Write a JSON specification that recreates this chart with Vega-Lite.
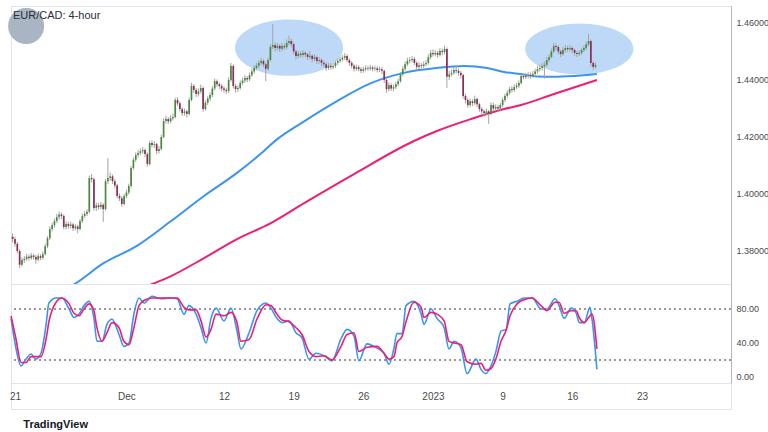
{
"$schema": "https://vega.github.io/schema/vega-lite/v6.json",
"padding": {"left": 7, "top": 5, "right": 0, "bottom": 0},
"background": "#ffffff",
"spacing": 0,
"bounds": "flush",
"config": {"view": {"stroke": "#e0e3eb"}, "axis": {"labelFont": "Liberation Sans", "labelFontSize": 9, "labelColor": "#4a4a4a", "grid": false, "ticks": false, "domainColor": "#b2b5be"}},
"title": {"text": "TradingView", "orient": "bottom", "anchor": "start", "dx": 16, "fontSize": 11, "font": "Liberation Sans", "fontWeight": "bold", "color": "#131722", "offset": 9},
"datasets": {
"candles": [
{"t":-1,"o":1.3850,"h":1.3862,"l":1.3830,"c":1.3842},
{"t":0,"o":1.3842,"h":1.3850,"l":1.3815,"c":1.3825},
{"t":1,"o":1.3825,"h":1.3832,"l":1.3792,"c":1.3800},
{"t":2,"o":1.3800,"h":1.3806,"l":1.3740,"c":1.3752},
{"t":3,"o":1.3752,"h":1.3778,"l":1.3745,"c":1.3768},
{"t":4,"o":1.3768,"h":1.3782,"l":1.3758,"c":1.3772},
{"t":5,"o":1.3772,"h":1.3790,"l":1.3765,"c":1.3780},
{"t":6,"o":1.3780,"h":1.3788,"l":1.3766,"c":1.3775},
{"t":7,"o":1.3775,"h":1.3793,"l":1.3769,"c":1.3784},
{"t":8,"o":1.3784,"h":1.3790,"l":1.3770,"c":1.3779},
{"t":9,"o":1.3779,"h":1.3786,"l":1.3755,"c":1.3770},
{"t":10,"o":1.3770,"h":1.3791,"l":1.3763,"c":1.3782},
{"t":11,"o":1.3782,"h":1.3789,"l":1.3768,"c":1.3776},
{"t":12,"o":1.3776,"h":1.3798,"l":1.3770,"c":1.3789},
{"t":13,"o":1.3789,"h":1.3826,"l":1.3784,"c":1.3817},
{"t":14,"o":1.3817,"h":1.3852,"l":1.3810,"c":1.3845},
{"t":15,"o":1.3845,"h":1.3886,"l":1.3838,"c":1.3877},
{"t":16,"o":1.3877,"h":1.3899,"l":1.3868,"c":1.3890},
{"t":17,"o":1.3890,"h":1.3914,"l":1.3882,"c":1.3905},
{"t":18,"o":1.3905,"h":1.3930,"l":1.3898,"c":1.3919},
{"t":19,"o":1.3919,"h":1.3938,"l":1.3910,"c":1.3928},
{"t":20,"o":1.3928,"h":1.3935,"l":1.3912,"c":1.3923},
{"t":21,"o":1.3923,"h":1.3928,"l":1.3875,"c":1.3884},
{"t":22,"o":1.3884,"h":1.3904,"l":1.3876,"c":1.3895},
{"t":23,"o":1.3895,"h":1.3902,"l":1.3878,"c":1.3888},
{"t":24,"o":1.3888,"h":1.3903,"l":1.3879,"c":1.3893},
{"t":25,"o":1.3893,"h":1.3898,"l":1.3870,"c":1.3880},
{"t":26,"o":1.3880,"h":1.3895,"l":1.3872,"c":1.3886},
{"t":27,"o":1.3886,"h":1.3892,"l":1.3862,"c":1.3877},
{"t":28,"o":1.3877,"h":1.3912,"l":1.3872,"c":1.3905},
{"t":29,"o":1.3905,"h":1.3931,"l":1.3898,"c":1.3923},
{"t":30,"o":1.3923,"h":1.3940,"l":1.3915,"c":1.3930},
{"t":31,"o":1.3930,"h":1.3946,"l":1.3922,"c":1.3938},
{"t":32,"o":1.3938,"h":1.4065,"l":1.3932,"c":1.4056},
{"t":33,"o":1.4056,"h":1.4070,"l":1.4040,"c":1.4052},
{"t":34,"o":1.4052,"h":1.4058,"l":1.3942,"c":1.3951},
{"t":35,"o":1.3951,"h":1.3970,"l":1.3940,"c":1.3960},
{"t":36,"o":1.3960,"h":1.3968,"l":1.3945,"c":1.3954},
{"t":37,"o":1.3954,"h":1.3972,"l":1.3946,"c":1.3962},
{"t":38,"o":1.3962,"h":1.3968,"l":1.3902,"c":1.3947},
{"t":39,"o":1.3947,"h":1.4052,"l":1.3942,"c":1.4045},
{"t":40,"o":1.4045,"h":1.4126,"l":1.4035,"c":1.4056},
{"t":41,"o":1.4056,"h":1.4075,"l":1.4046,"c":1.4062},
{"t":42,"o":1.4062,"h":1.4068,"l":1.4036,"c":1.4045},
{"t":43,"o":1.4045,"h":1.4052,"l":1.4020,"c":1.4030},
{"t":44,"o":1.4030,"h":1.4036,"l":1.3985,"c":1.3993},
{"t":45,"o":1.3993,"h":1.4002,"l":1.3975,"c":1.3985},
{"t":46,"o":1.3985,"h":1.3992,"l":1.3955,"c":1.3965},
{"t":47,"o":1.3965,"h":1.4000,"l":1.3960,"c":1.3993},
{"t":48,"o":1.3993,"h":1.4015,"l":1.3985,"c":1.4005},
{"t":49,"o":1.4005,"h":1.4036,"l":1.3998,"c":1.4028},
{"t":50,"o":1.4028,"h":1.4098,"l":1.4022,"c":1.4091},
{"t":51,"o":1.4091,"h":1.4128,"l":1.4085,"c":1.4120},
{"t":52,"o":1.4120,"h":1.4146,"l":1.4112,"c":1.4137},
{"t":53,"o":1.4137,"h":1.4155,"l":1.4128,"c":1.4144},
{"t":54,"o":1.4144,"h":1.4160,"l":1.4136,"c":1.4150},
{"t":55,"o":1.4150,"h":1.4165,"l":1.4141,"c":1.4154},
{"t":56,"o":1.4154,"h":1.4160,"l":1.4130,"c":1.4140},
{"t":57,"o":1.4140,"h":1.4146,"l":1.4095,"c":1.4105},
{"t":58,"o":1.4105,"h":1.4186,"l":1.4100,"c":1.4179},
{"t":59,"o":1.4179,"h":1.4188,"l":1.4163,"c":1.4172},
{"t":60,"o":1.4172,"h":1.4185,"l":1.4162,"c":1.4175},
{"t":61,"o":1.4175,"h":1.4180,"l":1.4140,"c":1.4151},
{"t":62,"o":1.4151,"h":1.4168,"l":1.4142,"c":1.4158},
{"t":63,"o":1.4158,"h":1.4208,"l":1.4152,"c":1.4200},
{"t":64,"o":1.4200,"h":1.4265,"l":1.4195,"c":1.4256},
{"t":65,"o":1.4256,"h":1.4275,"l":1.4247,"c":1.4263},
{"t":66,"o":1.4263,"h":1.4270,"l":1.4245,"c":1.4255},
{"t":67,"o":1.4255,"h":1.4276,"l":1.4248,"c":1.4266},
{"t":68,"o":1.4266,"h":1.4282,"l":1.4258,"c":1.4270},
{"t":69,"o":1.4270,"h":1.4338,"l":1.4265,"c":1.4330},
{"t":70,"o":1.4330,"h":1.4340,"l":1.4310,"c":1.4318},
{"t":71,"o":1.4318,"h":1.4325,"l":1.4290,"c":1.4298},
{"t":72,"o":1.4298,"h":1.4305,"l":1.4274,"c":1.4284},
{"t":73,"o":1.4284,"h":1.4300,"l":1.4275,"c":1.4290},
{"t":74,"o":1.4290,"h":1.4296,"l":1.4268,"c":1.4281},
{"t":75,"o":1.4281,"h":1.4338,"l":1.4276,"c":1.4330},
{"t":76,"o":1.4330,"h":1.4390,"l":1.4325,"c":1.4379},
{"t":77,"o":1.4379,"h":1.4386,"l":1.4355,"c":1.4365},
{"t":78,"o":1.4365,"h":1.4372,"l":1.4340,"c":1.4351},
{"t":79,"o":1.4351,"h":1.4370,"l":1.4342,"c":1.4360},
{"t":80,"o":1.4360,"h":1.4384,"l":1.4352,"c":1.4372},
{"t":81,"o":1.4372,"h":1.4378,"l":1.4288,"c":1.4298},
{"t":82,"o":1.4298,"h":1.4328,"l":1.4292,"c":1.4320},
{"t":83,"o":1.4320,"h":1.4343,"l":1.4312,"c":1.4335},
{"t":84,"o":1.4335,"h":1.4356,"l":1.4326,"c":1.4347},
{"t":85,"o":1.4347,"h":1.4378,"l":1.4340,"c":1.4370},
{"t":86,"o":1.4370,"h":1.4405,"l":1.4364,"c":1.4396},
{"t":87,"o":1.4396,"h":1.4402,"l":1.4376,"c":1.4385},
{"t":88,"o":1.4385,"h":1.4392,"l":1.4368,"c":1.4379},
{"t":89,"o":1.4379,"h":1.4386,"l":1.4360,"c":1.4370},
{"t":90,"o":1.4370,"h":1.4378,"l":1.4355,"c":1.4365},
{"t":91,"o":1.4365,"h":1.4373,"l":1.4350,"c":1.4361},
{"t":92,"o":1.4361,"h":1.4410,"l":1.4355,"c":1.4400},
{"t":93,"o":1.4400,"h":1.4460,"l":1.4393,"c":1.4449},
{"t":94,"o":1.4449,"h":1.4455,"l":1.4370,"c":1.4379},
{"t":95,"o":1.4379,"h":1.4386,"l":1.4356,"c":1.4368},
{"t":96,"o":1.4368,"h":1.4382,"l":1.4358,"c":1.4372},
{"t":97,"o":1.4372,"h":1.4398,"l":1.4365,"c":1.4390},
{"t":98,"o":1.4390,"h":1.4408,"l":1.4382,"c":1.4398},
{"t":99,"o":1.4398,"h":1.4418,"l":1.4390,"c":1.4407},
{"t":100,"o":1.4407,"h":1.4414,"l":1.4392,"c":1.4402},
{"t":101,"o":1.4402,"h":1.4426,"l":1.4396,"c":1.4417},
{"t":102,"o":1.4417,"h":1.4440,"l":1.4410,"c":1.4430},
{"t":103,"o":1.4430,"h":1.4452,"l":1.4422,"c":1.4442},
{"t":104,"o":1.4442,"h":1.4460,"l":1.4435,"c":1.4450},
{"t":105,"o":1.4450,"h":1.4470,"l":1.4442,"c":1.4460},
{"t":106,"o":1.4460,"h":1.4478,"l":1.4452,"c":1.4467},
{"t":107,"o":1.4467,"h":1.4472,"l":1.4445,"c":1.4455},
{"t":108,"o":1.4455,"h":1.4460,"l":1.4396,"c":1.4439},
{"t":109,"o":1.4439,"h":1.4478,"l":1.4432,"c":1.4470},
{"t":110,"o":1.4470,"h":1.4525,"l":1.4464,"c":1.4516},
{"t":111,"o":1.4516,"h":1.4596,"l":1.4508,"c":1.4523},
{"t":112,"o":1.4523,"h":1.4532,"l":1.4500,"c":1.4512},
{"t":113,"o":1.4512,"h":1.4530,"l":1.4503,"c":1.4520},
{"t":114,"o":1.4520,"h":1.4526,"l":1.4498,"c":1.4510},
{"t":115,"o":1.4510,"h":1.4530,"l":1.4502,"c":1.4519},
{"t":116,"o":1.4519,"h":1.4528,"l":1.4505,"c":1.4515},
{"t":117,"o":1.4515,"h":1.4542,"l":1.4508,"c":1.4530},
{"t":118,"o":1.4530,"h":1.4556,"l":1.4522,"c":1.4537},
{"t":119,"o":1.4537,"h":1.4545,"l":1.4515,"c":1.4526},
{"t":120,"o":1.4526,"h":1.4530,"l":1.4490,"c":1.4500},
{"t":121,"o":1.4500,"h":1.4507,"l":1.4472,"c":1.4484},
{"t":122,"o":1.4484,"h":1.4502,"l":1.4476,"c":1.4492},
{"t":123,"o":1.4492,"h":1.4500,"l":1.4478,"c":1.4488},
{"t":124,"o":1.4488,"h":1.4505,"l":1.4480,"c":1.4495},
{"t":125,"o":1.4495,"h":1.4502,"l":1.4480,"c":1.4490},
{"t":126,"o":1.4490,"h":1.4496,"l":1.4470,"c":1.4481},
{"t":127,"o":1.4481,"h":1.4502,"l":1.4472,"c":1.4485},
{"t":128,"o":1.4485,"h":1.4490,"l":1.4462,"c":1.4474},
{"t":129,"o":1.4474,"h":1.4490,"l":1.4466,"c":1.4480},
{"t":130,"o":1.4480,"h":1.4486,"l":1.4456,"c":1.4467},
{"t":131,"o":1.4467,"h":1.4480,"l":1.4458,"c":1.4470},
{"t":132,"o":1.4470,"h":1.4476,"l":1.4448,"c":1.4460},
{"t":133,"o":1.4460,"h":1.4468,"l":1.4445,"c":1.4455},
{"t":134,"o":1.4455,"h":1.4462,"l":1.4432,"c":1.4442},
{"t":135,"o":1.4442,"h":1.4460,"l":1.4435,"c":1.4450},
{"t":136,"o":1.4450,"h":1.4458,"l":1.4436,"c":1.4445},
{"t":137,"o":1.4445,"h":1.4458,"l":1.4438,"c":1.4449},
{"t":138,"o":1.4449,"h":1.4468,"l":1.4442,"c":1.4460},
{"t":139,"o":1.4460,"h":1.4476,"l":1.4452,"c":1.4467},
{"t":140,"o":1.4467,"h":1.4482,"l":1.4460,"c":1.4472},
{"t":141,"o":1.4472,"h":1.4488,"l":1.4465,"c":1.4478},
{"t":142,"o":1.4478,"h":1.4494,"l":1.4470,"c":1.4484},
{"t":143,"o":1.4484,"h":1.4490,"l":1.4462,"c":1.4470},
{"t":144,"o":1.4470,"h":1.4476,"l":1.4450,"c":1.4460},
{"t":145,"o":1.4460,"h":1.4466,"l":1.4440,"c":1.4450},
{"t":146,"o":1.4450,"h":1.4456,"l":1.4430,"c":1.4439},
{"t":147,"o":1.4439,"h":1.4454,"l":1.4432,"c":1.4445},
{"t":148,"o":1.4445,"h":1.4452,"l":1.4430,"c":1.4438},
{"t":149,"o":1.4438,"h":1.4445,"l":1.4424,"c":1.4432},
{"t":150,"o":1.4432,"h":1.4446,"l":1.4425,"c":1.4438},
{"t":151,"o":1.4438,"h":1.4452,"l":1.4430,"c":1.4442},
{"t":152,"o":1.4442,"h":1.4450,"l":1.4432,"c":1.4440},
{"t":153,"o":1.4440,"h":1.4453,"l":1.4433,"c":1.4444},
{"t":154,"o":1.4444,"h":1.4450,"l":1.4430,"c":1.4439},
{"t":155,"o":1.4439,"h":1.4450,"l":1.4431,"c":1.4441},
{"t":156,"o":1.4441,"h":1.4448,"l":1.4426,"c":1.4435},
{"t":157,"o":1.4435,"h":1.4447,"l":1.4428,"c":1.4438},
{"t":158,"o":1.4438,"h":1.4445,"l":1.4420,"c":1.4432},
{"t":159,"o":1.4432,"h":1.4436,"l":1.4390,"c":1.4400},
{"t":160,"o":1.4400,"h":1.4405,"l":1.4355,"c":1.4368},
{"t":161,"o":1.4368,"h":1.4392,"l":1.4360,"c":1.4382},
{"t":162,"o":1.4382,"h":1.4388,"l":1.4362,"c":1.4370},
{"t":163,"o":1.4370,"h":1.4384,"l":1.4360,"c":1.4375},
{"t":164,"o":1.4375,"h":1.4394,"l":1.4368,"c":1.4385},
{"t":165,"o":1.4385,"h":1.4405,"l":1.4378,"c":1.4396},
{"t":166,"o":1.4396,"h":1.4428,"l":1.4390,"c":1.4420},
{"t":167,"o":1.4420,"h":1.4448,"l":1.4414,"c":1.4439},
{"t":168,"o":1.4439,"h":1.4465,"l":1.4432,"c":1.4455},
{"t":169,"o":1.4455,"h":1.4478,"l":1.4448,"c":1.4467},
{"t":170,"o":1.4467,"h":1.4480,"l":1.4458,"c":1.4470},
{"t":171,"o":1.4470,"h":1.4484,"l":1.4462,"c":1.4474},
{"t":172,"o":1.4474,"h":1.4480,"l":1.4452,"c":1.4460},
{"t":173,"o":1.4460,"h":1.4466,"l":1.4436,"c":1.4446},
{"t":174,"o":1.4446,"h":1.4462,"l":1.4438,"c":1.4452},
{"t":175,"o":1.4452,"h":1.4460,"l":1.4440,"c":1.4449},
{"t":176,"o":1.4449,"h":1.4465,"l":1.4442,"c":1.4455},
{"t":177,"o":1.4455,"h":1.4470,"l":1.4448,"c":1.4460},
{"t":178,"o":1.4460,"h":1.4490,"l":1.4454,"c":1.4480},
{"t":179,"o":1.4480,"h":1.4505,"l":1.4472,"c":1.4495},
{"t":180,"o":1.4495,"h":1.4508,"l":1.4482,"c":1.4490},
{"t":181,"o":1.4490,"h":1.4505,"l":1.4483,"c":1.4495},
{"t":182,"o":1.4495,"h":1.4502,"l":1.4478,"c":1.4488},
{"t":183,"o":1.4488,"h":1.4512,"l":1.4482,"c":1.4502},
{"t":184,"o":1.4502,"h":1.4510,"l":1.4488,"c":1.4498},
{"t":185,"o":1.4498,"h":1.4520,"l":1.4490,"c":1.4509},
{"t":186,"o":1.4509,"h":1.4514,"l":1.4372,"c":1.4411},
{"t":187,"o":1.4411,"h":1.4432,"l":1.4400,"c":1.4420},
{"t":188,"o":1.4420,"h":1.4436,"l":1.4412,"c":1.4425},
{"t":189,"o":1.4425,"h":1.4445,"l":1.4418,"c":1.4435},
{"t":190,"o":1.4435,"h":1.4448,"l":1.4422,"c":1.4432},
{"t":191,"o":1.4432,"h":1.4440,"l":1.4415,"c":1.4425},
{"t":192,"o":1.4425,"h":1.4432,"l":1.4405,"c":1.4417},
{"t":193,"o":1.4417,"h":1.4422,"l":1.4335,"c":1.4344},
{"t":194,"o":1.4344,"h":1.4352,"l":1.4318,"c":1.4330},
{"t":195,"o":1.4330,"h":1.4336,"l":1.4302,"c":1.4312},
{"t":196,"o":1.4312,"h":1.4335,"l":1.4305,"c":1.4325},
{"t":197,"o":1.4325,"h":1.4332,"l":1.4308,"c":1.4319},
{"t":198,"o":1.4319,"h":1.4345,"l":1.4312,"c":1.4333},
{"t":199,"o":1.4333,"h":1.4338,"l":1.4305,"c":1.4315},
{"t":200,"o":1.4315,"h":1.4320,"l":1.4288,"c":1.4298},
{"t":201,"o":1.4298,"h":1.4305,"l":1.4280,"c":1.4290},
{"t":202,"o":1.4290,"h":1.4296,"l":1.4272,"c":1.4284},
{"t":203,"o":1.4284,"h":1.4300,"l":1.4276,"c":1.4290},
{"t":204,"o":1.4290,"h":1.4295,"l":1.4246,"c":1.4281},
{"t":205,"o":1.4281,"h":1.4322,"l":1.4275,"c":1.4312},
{"t":206,"o":1.4312,"h":1.4320,"l":1.4290,"c":1.4300},
{"t":207,"o":1.4300,"h":1.4315,"l":1.4292,"c":1.4305},
{"t":208,"o":1.4305,"h":1.4312,"l":1.4290,"c":1.4300},
{"t":209,"o":1.4300,"h":1.4320,"l":1.4292,"c":1.4312},
{"t":210,"o":1.4312,"h":1.4338,"l":1.4305,"c":1.4330},
{"t":211,"o":1.4330,"h":1.4352,"l":1.4322,"c":1.4344},
{"t":212,"o":1.4344,"h":1.4364,"l":1.4338,"c":1.4355},
{"t":213,"o":1.4355,"h":1.4376,"l":1.4348,"c":1.4368},
{"t":214,"o":1.4368,"h":1.4378,"l":1.4356,"c":1.4365},
{"t":215,"o":1.4365,"h":1.4384,"l":1.4358,"c":1.4375},
{"t":216,"o":1.4375,"h":1.4390,"l":1.4368,"c":1.4380},
{"t":217,"o":1.4380,"h":1.4398,"l":1.4372,"c":1.4389},
{"t":218,"o":1.4389,"h":1.4422,"l":1.4384,"c":1.4414},
{"t":219,"o":1.4414,"h":1.4422,"l":1.4402,"c":1.4410},
{"t":220,"o":1.4410,"h":1.4425,"l":1.4403,"c":1.4415},
{"t":221,"o":1.4415,"h":1.4428,"l":1.4406,"c":1.4417},
{"t":222,"o":1.4417,"h":1.4426,"l":1.4405,"c":1.4414},
{"t":223,"o":1.4414,"h":1.4432,"l":1.4408,"c":1.4421},
{"t":224,"o":1.4421,"h":1.4440,"l":1.4414,"c":1.4430},
{"t":225,"o":1.4430,"h":1.4450,"l":1.4422,"c":1.4438},
{"t":226,"o":1.4438,"h":1.4454,"l":1.4430,"c":1.4442},
{"t":227,"o":1.4442,"h":1.4460,"l":1.4434,"c":1.4448},
{"t":228,"o":1.4448,"h":1.4464,"l":1.4405,"c":1.4453},
{"t":229,"o":1.4453,"h":1.4480,"l":1.4446,"c":1.4470},
{"t":230,"o":1.4470,"h":1.4490,"l":1.4462,"c":1.4481},
{"t":231,"o":1.4481,"h":1.4510,"l":1.4475,"c":1.4500},
{"t":232,"o":1.4500,"h":1.4530,"l":1.4494,"c":1.4519},
{"t":233,"o":1.4519,"h":1.4528,"l":1.4505,"c":1.4516},
{"t":234,"o":1.4516,"h":1.4522,"l":1.4490,"c":1.4500},
{"t":235,"o":1.4500,"h":1.4506,"l":1.4480,"c":1.4491},
{"t":236,"o":1.4491,"h":1.4515,"l":1.4484,"c":1.4505},
{"t":237,"o":1.4505,"h":1.4522,"l":1.4496,"c":1.4512},
{"t":238,"o":1.4512,"h":1.4520,"l":1.4498,"c":1.4508},
{"t":239,"o":1.4508,"h":1.4522,"l":1.4500,"c":1.4512},
{"t":240,"o":1.4512,"h":1.4518,"l":1.4494,"c":1.4505},
{"t":241,"o":1.4505,"h":1.4510,"l":1.4485,"c":1.4495},
{"t":242,"o":1.4495,"h":1.4502,"l":1.4480,"c":1.4491},
{"t":243,"o":1.4491,"h":1.4505,"l":1.4484,"c":1.4495},
{"t":244,"o":1.4495,"h":1.4514,"l":1.4488,"c":1.4505},
{"t":245,"o":1.4505,"h":1.4522,"l":1.4498,"c":1.4512},
{"t":246,"o":1.4512,"h":1.4535,"l":1.4505,"c":1.4525},
{"t":247,"o":1.4525,"h":1.4561,"l":1.4518,"c":1.4537},
{"t":248,"o":1.4537,"h":1.4542,"l":1.4448,"c":1.4460},
{"t":249,"o":1.4460,"h":1.4466,"l":1.4436,"c":1.4446},
{"t":250,"o":1.4446,"h":1.4462,"l":1.4440,"c":1.4453}
],
"ma": [
{"t":18.9,"p":1.3660,"s":"a"},{"t":24.1,"p":1.3677,"s":"a"},{"t":38.3,"p":1.3758,"s":"a"},{"t":52.5,"p":1.3818,"s":"a"},{"t":67.2,"p":1.3905,"s":"a"},{"t":81.4,"p":1.3993,"s":"a"},{"t":95.6,"p":1.4074,"s":"a"},{"t":107.2,"p":1.4151,"s":"a"},{"t":112.4,"p":1.4189,"s":"a"},{"t":124.5,"p":1.4255,"s":"a"},{"t":138.7,"p":1.4326,"s":"a"},{"t":153.3,"p":1.4389,"s":"a"},{"t":167.5,"p":1.4425,"s":"a"},{"t":181.7,"p":1.4442,"s":"a"},{"t":193.4,"p":1.4449,"s":"a"},{"t":203.3,"p":1.4442,"s":"a"},{"t":210.6,"p":1.4428,"s":"a"},{"t":217.9,"p":1.4421,"s":"a"},{"t":224.8,"p":1.4412,"s":"a"},{"t":232.1,"p":1.4411,"s":"a"},{"t":240.7,"p":1.4414,"s":"a"},{"t":250.6,"p":1.4421,"s":"a"},
{"t":51.2,"p":1.3660,"s":"b"},{"t":67.2,"p":1.3712,"s":"b"},{"t":81.4,"p":1.3775,"s":"b"},{"t":95.6,"p":1.3842,"s":"b"},{"t":110.2,"p":1.3898,"s":"b"},{"t":124.5,"p":1.3968,"s":"b"},{"t":146.0,"p":1.4070,"s":"b"},{"t":171.8,"p":1.4186,"s":"b"},{"t":181.7,"p":1.4221,"s":"b"},{"t":196.4,"p":1.4263,"s":"b"},{"t":210.6,"p":1.4298,"s":"b"},{"t":217.9,"p":1.4312,"s":"b"},{"t":232.1,"p":1.4351,"s":"b"},{"t":250.6,"p":1.4400,"s":"b"}
],
"stoch": [
{"t":-1.7,"k":69,"d":72},{"t":0.4,"k":34,"d":45},{"t":2.6,"k":13,"d":17},{"t":4.7,"k":21,"d":17},{"t":6.9,"k":27,"d":24},{"t":9.0,"k":21,"d":24},{"t":11.2,"k":28,"d":24},{"t":13.4,"k":62,"d":45},{"t":14.6,"k":87,"d":65},{"t":17.7,"k":93,"d":88},{"t":20.2,"k":93,"d":93},{"t":23.3,"k":80,"d":86},{"t":25.4,"k":70,"d":75},{"t":27.6,"k":74,"d":72},{"t":29.7,"k":84,"d":80},{"t":31.9,"k":89,"d":86},{"t":34.0,"k":69,"d":78},{"t":35.3,"k":42,"d":58},{"t":37.5,"k":42,"d":42},{"t":39.6,"k":62,"d":52},{"t":41.8,"k":68,"d":64},{"t":44.8,"k":50,"d":58},{"t":46.9,"k":36,"d":42},{"t":49.1,"k":40,"d":38},{"t":51.2,"k":74,"d":58},{"t":53.4,"k":93,"d":84},{"t":55.6,"k":87,"d":90},{"t":59.0,"k":95,"d":93},{"t":62.9,"k":92,"d":93},{"t":67.2,"k":93,"d":93},{"t":69.8,"k":92,"d":93},{"t":72.8,"k":74,"d":82},{"t":74.9,"k":84,"d":79},{"t":78.0,"k":74,"d":79},{"t":80.1,"k":58,"d":66},{"t":82.3,"k":40,"d":47},{"t":84.4,"k":69,"d":56},{"t":86.6,"k":81,"d":74},{"t":90.0,"k":66,"d":72},{"t":93.0,"k":81,"d":76},{"t":95.6,"k":54,"d":64},{"t":97.3,"k":33,"d":42},{"t":100.8,"k":52,"d":44},{"t":104.2,"k":78,"d":68},{"t":108.1,"k":87,"d":85},{"t":110.2,"k":81,"d":84},{"t":112.8,"k":69,"d":74},{"t":115.0,"k":64,"d":67},{"t":118.0,"k":66,"d":65},{"t":121.0,"k":52,"d":58},{"t":123.6,"k":46,"d":50},{"t":126.6,"k":21,"d":30},{"t":129.6,"k":28,"d":24},{"t":133.1,"k":25,"d":25},{"t":136.5,"k":19,"d":20},{"t":140.4,"k":45,"d":36},{"t":143.0,"k":56,"d":50},{"t":146.0,"k":48,"d":52},{"t":148.1,"k":19,"d":30},{"t":151.6,"k":39,"d":35},{"t":155.9,"k":34,"d":36},{"t":158.9,"k":28,"d":28},{"t":161.1,"k":15,"d":21},{"t":163.2,"k":34,"d":24},{"t":164.5,"k":51,"d":40},{"t":166.7,"k":51,"d":48},{"t":168.4,"k":84,"d":65},{"t":171.8,"k":89,"d":88},{"t":174.9,"k":74,"d":82},{"t":176.1,"k":62,"d":70},{"t":179.2,"k":80,"d":76},{"t":181.7,"k":69,"d":74},{"t":184.8,"k":58,"d":66},{"t":186.9,"k":33,"d":42},{"t":189.1,"k":42,"d":40},{"t":192.1,"k":34,"d":38},{"t":194.7,"k":4,"d":18},{"t":198.5,"k":21,"d":15},{"t":200.7,"k":9,"d":16},{"t":202.8,"k":4,"d":8},{"t":205.0,"k":13,"d":10},{"t":207.2,"k":31,"d":22},{"t":209.3,"k":54,"d":42},{"t":211.5,"k":56,"d":55},{"t":213.2,"k":86,"d":72},{"t":216.2,"k":89,"d":86},{"t":219.2,"k":93,"d":91},{"t":222.7,"k":93,"d":93},{"t":226.5,"k":80,"d":84},{"t":229.1,"k":80,"d":78},{"t":232.6,"k":92,"d":88},{"t":234.3,"k":84,"d":88},{"t":236.5,"k":69,"d":75},{"t":239.5,"k":81,"d":78},{"t":241.7,"k":75,"d":78},{"t":243.0,"k":64,"d":70},{"t":245.2,"k":64,"d":64},{"t":247.6,"k":82,"d":72},{"t":248.5,"k":68,"d":74},{"t":250.6,"k":9,"d":33}
]
},
"vconcat": [
{
"width": 720, "height": 278,
"layer": [
{"data": {"values": [{"id": "a"}]},
 "mark": {"type": "point", "filled": true, "fill": "#bdd9f7", "opacity": 1, "strokeWidth": 0, "size": 11700, "shape": "M -1 0 A 1 0.52 0 1 1 1 0 A 1 0.52 0 1 1 -1 0 Z"},
 "encoding": {"x": {"datum": 118.0, "type": "quantitative", "scale": {"domain": [-1.72, 308.35], "nice": false, "zero": false}, "axis": null},
  "y": {"datum": 1.45133, "type": "quantitative", "scale": {"domain": [1.36842, 1.46596], "nice": false, "zero": false}, "axis": {"orient": "right", "values": [1.38, 1.40, 1.42, 1.44, 1.46], "format": ".5f", "labelPadding": 5, "ticks": false, "domain": true, "title": null}}}},
{"data": {"values": [{"id": "b"}]},
 "mark": {"type": "point", "filled": true, "fill": "#bdd9f7", "opacity": 1, "strokeWidth": 0, "size": 11700, "shape": "M -1 0 A 1 0.47 0 1 1 1 0 A 1 0.47 0 1 1 -1 0 Z"},
 "encoding": {"x": {"datum": 243.0, "type": "quantitative"}, "y": {"datum": 1.45088, "type": "quantitative"}}},
{"data": {"name": "ma"}, "mark": {"type": "line", "strokeWidth": 2, "clip": true, "interpolate": "monotone"},
 "encoding": {"x": {"field": "t", "type": "quantitative"}, "y": {"field": "p", "type": "quantitative", "title": null}, "detail": {"field": "s"},
  "color": {"field": "s", "type": "nominal", "scale": {"domain": ["a", "b"], "range": ["#3d94f0", "#ec1f72"]}, "legend": null}}},
{"data": {"name": "candles"}, "mark": {"type": "rule", "strokeWidth": 1, "color": "#a3a3a3"},
 "encoding": {"x": {"field": "t", "type": "quantitative"}, "y": {"field": "l", "type": "quantitative", "title": null}, "y2": {"field": "h"}}},
{"data": {"name": "candles"}, "mark": {"type": "rule", "strokeWidth": 1.7},
 "encoding": {"x": {"field": "t", "type": "quantitative"}, "y": {"field": "o", "type": "quantitative", "title": null}, "y2": {"field": "c"},
  "color": {"condition": {"test": "datum.c >= datum.o", "value": "#4b8a3e"}, "value": "#8e2c56"}}},
{"data": {"values": [{"id": "logo"}]},
 "mark": {"type": "point", "shape": "circle", "filled": true, "fill": "#a9b5c3", "opacity": 1, "strokeWidth": 0, "size": 1300},
 "encoding": {"x": {"datum": 4.8, "type": "quantitative"}, "y": {"datum": 1.45895, "type": "quantitative"}}},
{"data": {"values": [{"label": "EUR/CAD: 4-hour"}]},
 "mark": {"type": "text", "align": "left", "baseline": "middle", "font": "Liberation Sans", "fontSize": 11, "color": "#2a2e39"},
 "encoding": {"text": {"field": "label"}, "x": {"datum": -0.9, "type": "quantitative"}, "y": {"datum": 1.46246, "type": "quantitative"}}}
]
},
{
"width": 720, "height": 99,
"data": {"name": "stoch"},
"layer": [
{"mark": {"type": "rule", "strokeDash": [2, 3], "color": "#9a9a9a", "strokeWidth": 1},
 "encoding": {"y": {"datum": 80, "type": "quantitative", "scale": {"domain": [-7.06, 109.4], "nice": false, "zero": false}, "axis": {"orient": "right", "values": [0, 40, 80], "format": ".2f", "labelPadding": 5, "ticks": false, "domain": true, "title": null}}}},
{"mark": {"type": "rule", "strokeDash": [2, 3], "color": "#9a9a9a", "strokeWidth": 1},
 "encoding": {"y": {"datum": 20, "type": "quantitative"}}},
{"mark": {"type": "line", "strokeWidth": 1.6, "color": "#3d94f0", "interpolate": "monotone"},
 "encoding": {"x": {"field": "t", "type": "quantitative", "scale": {"domain": [-1.72, 308.35], "nice": false, "zero": false}, "axis": {"labels": false, "ticks": false, "domain": true, "domainColor": "#a5a8b0", "title": null}},
  "y": {"field": "k", "type": "quantitative", "title": null}}},
{"mark": {"type": "line", "strokeWidth": 1.6, "color": "#ec1f72", "interpolate": "monotone"},
 "encoding": {"x": {"field": "t", "type": "quantitative"}, "y": {"field": "d", "type": "quantitative", "title": null}}}
]
},
{
"width": 720, "height": 26,
"data": {"name": "stoch"},
"mark": {"type": "point", "opacity": 0},
"encoding": {"x": {"field": "t", "type": "quantitative", "scale": {"domain": [-1.72, 308.35], "nice": false, "zero": false},
 "axis": {"values": [0, 48, 90, 120, 150, 180, 210, 240, 270], "labelExpr": "datum.value == 0 ? '21' : datum.value == 48 ? 'Dec' : datum.value == 90 ? '12' : datum.value == 120 ? '19' : datum.value == 150 ? '26' : datum.value == 180 ? '2023' : datum.value == 210 ? '9' : datum.value == 240 ? '16' : '23'", "labelPadding": -13, "labelBaseline": "middle", "labelFontSize": 10, "domain": false, "ticks": false, "title": null, "labelFlush": false, "labelOverlap": false}}}
}
]
}
